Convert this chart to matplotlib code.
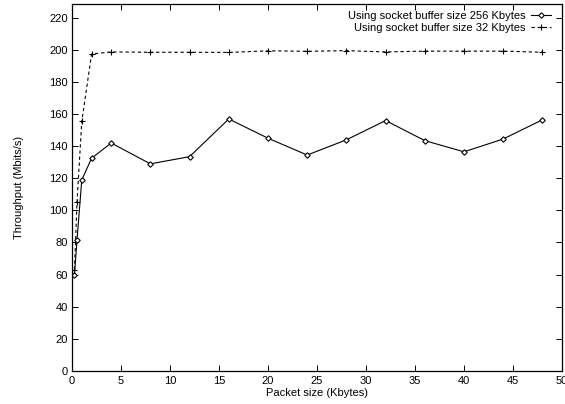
import matplotlib
matplotlib.use("Agg")
import matplotlib.pyplot as plt

plt.rcParams['font.family'] = ['Liberation Sans', 'DejaVu Sans']
plt.rcParams['font.size'] = 8

# packet sizes (Kbytes)
pkt_256 = [0.256, 0.512, 1, 2, 4, 8, 12, 16, 20, 24, 28, 32, 36, 40, 44, 48]
thr_256 = [60, 81.5, 119, 132.5, 142, 129, 133.5, 157, 145, 134.5, 144, 156, 143.5, 136.5, 144.5, 156.5]

pkt_32 = [0.256, 0.512, 1, 2, 4, 8, 12, 16, 20, 24, 28, 32, 36, 40, 44, 48]
thr_32 = [63, 105, 155.5, 197.5, 198.8, 198.6, 198.6, 198.5, 199.5, 199.2, 199.6, 198.8, 199.3, 199.3, 199.3, 198.6]

xticks = list(range(0, 51, 5))
yticks = list(range(0, 221, 20))

fig = plt.figure(figsize=(5.65, 4.04), dpi=100)
ax = fig.add_axes([0.1274, 0.0824, 0.8673, 0.9089])

ax.plot(pkt_256, thr_256, color='black', lw=0.8, marker='D', markersize=2.8,
        markerfacecolor='white', markeredgecolor='black', markeredgewidth=0.8,
        label="Using socket buffer size 256 Kbytes")
ax.plot(pkt_32, thr_32, color='black', lw=0.8, ls=(0, (3, 2.5)), marker='+',
        markersize=5, markeredgewidth=0.8,
        label="Using socket buffer size 32 Kbytes")

ax.set_xlim(0, 50)
ax.set_ylim(0, 229)
ax.set_xticks(xticks)
ax.set_yticks(yticks)
ax.tick_params(direction='in', length=4.3, width=0.7, top=True, right=True)
ax.tick_params(axis='x', pad=4)
ax.tick_params(axis='y', pad=3)
for s in ax.spines.values():
    s.set_linewidth(0.9)

ax.set_xlabel("Packet size (Kbytes)", labelpad=1.5)
ax.set_ylabel("Throughput (Mbits/s)", labelpad=18)

ax.legend(loc='upper right', frameon=False, markerfirst=False, handlelength=1.8,
          handletextpad=0.5, borderaxespad=0.3, labelspacing=0.15,
          bbox_to_anchor=(0.993, 1.0))

fig.savefig("out.png", dpi=100)
